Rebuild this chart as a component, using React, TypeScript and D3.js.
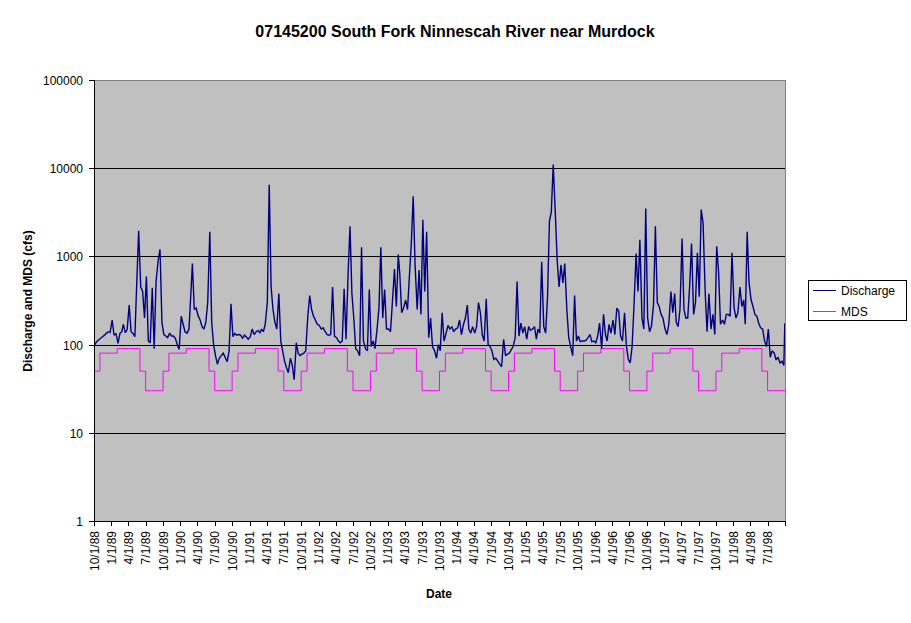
import React from 'react';
import * as d3 from 'd3';

const chartTitle = '07145200 South Fork Ninnescah River near Murdock';
const yAxisTitle = 'Discharge and MDS (cfs)';
const xAxisTitle = 'Date';
const seriesNames = ['Discharge', 'MDS'];

const yTickValues = [1, 10, 100, 1000, 10000, 100000];
const xTickLabels = [
  '10/1/88', '1/1/89', '4/1/89', '7/1/89', '10/1/89', '1/1/90', '4/1/90', '7/1/90',
  '10/1/90', '1/1/91', '4/1/91', '7/1/91', '10/1/91', '1/1/92', '4/1/92', '7/1/92',
  '10/1/92', '1/1/93', '4/1/93', '7/1/93', '10/1/93', '1/1/94', '4/1/94', '7/1/94',
  '10/1/94', '1/1/95', '4/1/95', '7/1/95', '10/1/95', '1/1/96', '4/1/96', '7/1/96',
  '10/1/96', '1/1/97', '4/1/97', '7/1/97', '10/1/97', '1/1/98', '4/1/98', '7/1/98',
];

// Discharge (cfs), three readings per month (around days 5, 15, 25), Oct..Sep of each water year
const wy1989 = [100, 108, 113, 118, 123, 128, 134, 140, 137, 190, 128, 134, 103, 134, 140, 170, 137, 147, 280, 140, 134, 123, 500, 1950, 450, 400, 200, 590, 110, 105, 440, 90, 520, 900, 1200, 180];
const wy1990 = [130, 125, 120, 135, 125, 125, 118, 100, 88, 210, 170, 140, 135, 150, 380, 830, 250, 260, 210, 190, 160, 150, 180, 300, 1900, 180, 100, 75, 60, 70, 75, 80, 72, 64, 85, 290];
const wy1991 = [123, 134, 128, 130, 128, 118, 128, 122, 115, 123, 150, 130, 140, 145, 135, 150, 140, 170, 300, 6500, 450, 250, 180, 150, 380, 110, 85, 65, 55, 48, 70, 58, 40, 105, 80, 75];
const wy1992 = [78, 80, 85, 210, 360, 250, 210, 190, 170, 165, 150, 155, 140, 130, 128, 130, 450, 125, 120, 110, 105, 110, 430, 115, 640, 2200, 380, 200, 90, 85, 75, 1270, 110, 90, 85, 420];
const wy1993 = [95, 110, 90, 150, 260, 1270, 200, 420, 150, 150, 140, 300, 720, 270, 1050, 640, 230, 260, 320, 250, 600, 1400, 4800, 800, 250, 700, 220, 2600, 400, 1900, 120, 200, 95, 85, 70, 100];
const wy1994 = [85, 230, 110, 135, 165, 150, 160, 140, 150, 155, 190, 130, 170, 200, 280, 150, 135, 160, 135, 160, 300, 230, 130, 110, 330, 100, 95, 85, 68, 70, 65, 60, 56, 115, 75, 78];
const wy1995 = [80, 87, 95, 120, 520, 125, 175, 135, 160, 115, 160, 145, 150, 160, 115, 150, 135, 870, 160, 135, 350, 2500, 3200, 11000, 3100, 900, 450, 800, 500, 830, 250, 120, 95, 75, 360, 110];
const wy1996 = [125, 108, 110, 110, 112, 120, 130, 108, 110, 105, 125, 175, 90, 220, 130, 110, 170, 135, 190, 130, 260, 240, 125, 110, 230, 95, 68, 62, 95, 280, 1080, 400, 1540, 200, 150, 3500];
const wy1997 = [200, 140, 160, 280, 2200, 300, 270, 220, 200, 150, 130, 170, 400, 230, 380, 180, 160, 250, 1600, 250, 200, 200, 460, 1400, 220, 300, 1100, 350, 3400, 2400, 400, 140, 380, 150, 220, 130];
const wy1998 = [1300, 670, 170, 190, 170, 220, 220, 210, 1100, 260, 200, 230, 450, 270, 320, 170, 1900, 500, 320, 270, 220, 210, 175, 155, 150, 110, 95, 150, 72, 85, 80, 67, 72, 62, 65, 58];
const finalDischarge = 175; // 9/30/98

// Minimum desirable streamflow (cfs) by month, Oct..Sep
const mdsMonthly = [50, 80, 80, 80, 90, 90, 90, 90, 50, 30, 30, 30];

const waterYears = [
  { year: 1989, values: wy1989 },
  { year: 1990, values: wy1990 },
  { year: 1991, values: wy1991 },
  { year: 1992, values: wy1992 },
  { year: 1993, values: wy1993 },
  { year: 1994, values: wy1994 },
  { year: 1995, values: wy1995 },
  { year: 1996, values: wy1996 },
  { year: 1997, values: wy1997 },
  { year: 1998, values: wy1998 },
];

const sampleDays = [5, 15, 25];

const W = 911;
const H = 623;
const L = 94;
const R = 785;
const T = 80;
const B = 521;
const FONT = "'Liberation Sans', Arial, Helvetica, sans-serif";

export default function App() {
  const parse = d3.timeParse('%m/%d/%y');
  const start = new Date(1988, 9, 1);
  const end = new Date(1998, 9, 1);
  const x = d3.scaleTime().domain([start, end]).range([L, R]);
  const y = d3.scaleLog().domain([1, 100000]).range([B, T]);

  const discharge: [Date, number][] = [];
  waterYears.forEach((wy) => {
    wy.values.forEach((v, i) => {
      const m = Math.floor(i / 3);
      const calMonth = (9 + m) % 12;
      const calYear = m < 3 ? wy.year - 1 : wy.year;
      discharge.push([new Date(calYear, calMonth, sampleDays[i % 3]), v]);
    });
  });
  discharge.push([new Date(1998, 8, 30), finalDischarge]);

  const mds: [Date, number][] = [];
  d3.timeMonth.range(start, end).forEach((d) => {
    const idx = (d.getMonth() + 3) % 12;
    mds.push([d, mdsMonthly[idx]]);
  });
  mds.push([end, mds[mds.length - 1][1]]);

  const line = d3
    .line<[Date, number]>()
    .x((d) => x(d[0]))
    .y((d) => y(d[1]));
  const stepLine = d3
    .line<[Date, number]>()
    .x((d) => x(d[0]))
    .y((d) => y(d[1]))
    .curve(d3.curveStepAfter);

  const xTicks = xTickLabels.map((s) => parse(s) as Date);
  const tickMarks = [...xTicks, end];

  return (
    <svg
      width={W}
      height={H}
      style={{ position: 'absolute', left: 0, top: 0, background: '#fff' }}
      fontFamily={FONT}
    >
      <defs>
        <clipPath id="plotClip">
          <rect x={L} y={T} width={R - L} height={B - T} />
        </clipPath>
      </defs>
      <rect x={0} y={0} width={W} height={H} fill="#fff" />
      <text x={455} y={37} textAnchor="middle" fontWeight="bold" fontSize={16}>
        {chartTitle}
      </text>

      {/* plot area */}
      <rect x={L} y={T} width={R - L} height={B - T} fill="#C0C0C0" />
      {yTickValues.slice(1, -1).map((v) => (
        <line
          key={'g' + v}
          x1={L}
          x2={R}
          y1={Math.round(y(v)) + 0.5}
          y2={Math.round(y(v)) + 0.5}
          stroke="#000"
          strokeWidth={1}
        />
      ))}
      <rect x={L + 0.5} y={T + 0.5} width={R - L} height={B - T} fill="none" stroke="#808080" strokeWidth={1} />

      <g clipPath="url(#plotClip)">
        <path d={stepLine(mds) || ''} fill="none" stroke="#FF00FF" strokeWidth={1} />
        <path d={line(discharge) || ''} fill="none" stroke="#000080" strokeWidth={1.4} strokeLinejoin="miter" strokeMiterlimit={2} />
      </g>

      {/* axes */}
      <line x1={L + 0.5} x2={L + 0.5} y1={T} y2={B + 0.5} stroke="#000" />
      <line x1={L} x2={R + 1} y1={B + 0.5} y2={B + 0.5} stroke="#000" />
      {yTickValues.map((v) => {
        const yy = Math.round(y(v)) + 0.5;
        return (
          <g key={'y' + v}>
            <line x1={L - 5} x2={L} y1={yy} y2={yy} stroke="#000" />
            <text x={83} y={yy} dy="0.36em" textAnchor="end" fontSize={12}>
              {String(v)}
            </text>
          </g>
        );
      })}
      {tickMarks.map((d, i) => {
        const xx = Math.round(x(d)) + 0.5;
        return <line key={'xt' + i} x1={xx} x2={xx} y1={B} y2={B + 5} stroke="#000" />;
      })}
      {xTicks.map((d, i) => {
        const xx = x(d);
        return (
          <text
            key={'xl' + i}
            transform={`translate(${xx + 4.5},531) rotate(-90)`}
            textAnchor="end"
            fontSize={12}
          >
            {xTickLabels[i]}
          </text>
        );
      })}

      <text x={439} y={598} textAnchor="middle" fontWeight="bold" fontSize={12}>
        {xAxisTitle}
      </text>
      <text
        transform={`translate(32,301) rotate(-90)`}
        textAnchor="middle"
        fontWeight="bold"
        fontSize={12}
      >
        {yAxisTitle}
      </text>

      {/* legend */}
      <rect x={808.5} y={280.5} width={98} height={40} fill="#fff" stroke="#000" />
      <line x1={813} x2={836} y1={290.5} y2={290.5} stroke="#000080" />
      <text x={841} y={295} fontSize={12}>
        {seriesNames[0]}
      </text>
      <line x1={813} x2={836} y1={311.5} y2={311.5} stroke="#FF00FF" />
      <text x={841} y={316} fontSize={12}>
        {seriesNames[1]}
      </text>
    </svg>
  );
}
